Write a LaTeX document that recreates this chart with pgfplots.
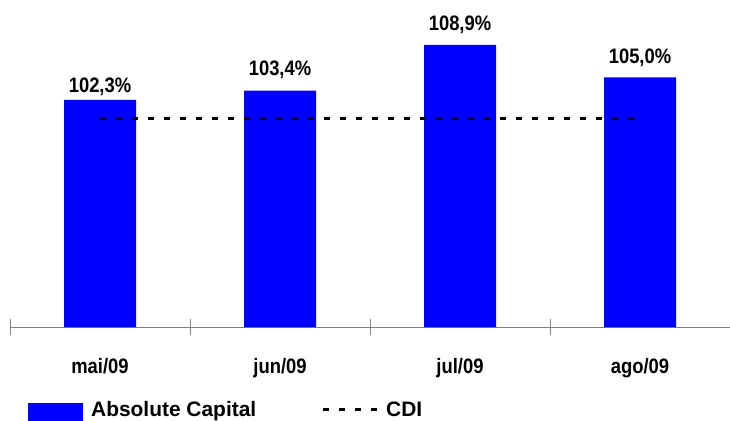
\documentclass[border=0pt]{standalone}
\usepackage{fontspec}
\setmainfont{Liberation Sans}
\newfontfamily\narrowfont[FakeStretch=0.88]{Liberation Sans}
\usepackage{pgfplots}
\usepackage{pgfplotstable}
\pgfplotsset{compat=1.18}

% x, value, label offset above the bar (bp)
\pgfplotstableread{
x y dy
0 102.3 7
1 103.4 15
2 108.9 14
3 105.0 14
}\capdata

\begin{document}
\begin{tikzpicture}
\begin{axis}[
    scale only axis,
    width=720bp, height=327bp,
    xmin=-0.5, xmax=3.5,
    ymin=75, ymax=114.3,
    hide y axis,
    axis x line*=bottom,
    x axis line style={-, color=gray, line width=0.8bp},
    xtick={0,1,2,3},
    xticklabels={mai/09, jun/09, jul/09, ago/09},
    major tick length=0pt,
    minor xtick={-0.5,0.5,1.5,2.5,3.5},
    minor tick length=16bp,
    tick align=center,
    minor tick style={gray, line width=0.8bp},
    xticklabel style={font=\fontsize{21}{23}\narrowfont\bfseries, anchor=base, yshift=-46bp},
    legend style={draw=none, fill=none, inner sep=0pt, at={(0.025,-0.256)}, anchor=west,
        font=\fontsize{21}{23}\selectfont\bfseries, legend columns=2,
        /tikz/every odd column/.append style={column sep=6bp},
        /tikz/every even column/.append style={column sep=63bp}},
    legend cell align=left,
]
    % Absolute Capital
    \addplot[ybar, bar width=72bp, fill=blue, draw=none,
        visualization depends on={\thisrow{dy} \as \dy},
        nodes near coords={\pgfmathprintnumber[fixed, fixed zerofill, precision=1, use comma, assume math mode=true]{\pgfplotspointmeta}\%},
        every node near coord/.append style={font=\fontsize{21}{23}\narrowfont\bfseries, anchor=base, yshift=\dy*1bp, black},
        legend image code/.code={\fill[blue] (0bp,-12bp) rectangle (55bp,7bp);}]
        table[x=x, y=y] {\capdata};

    % CDI
    \addplot[black, line width=3bp, dash pattern=on 6bp off 10bp,
        legend image code/.code={\draw[black, line width=3bp, dash pattern=on 6bp off 10bp] (0bp,0bp) -- (54bp,0bp);}]
        coordinates {(0,100) (1,100) (2,100) (3,100)};

    \legend{Absolute Capital, CDI}
\end{axis}
\pgfresetboundingbox
\path (-10bp,-94bp) rectangle (720bp,327bp);
\end{tikzpicture}
\end{document}
